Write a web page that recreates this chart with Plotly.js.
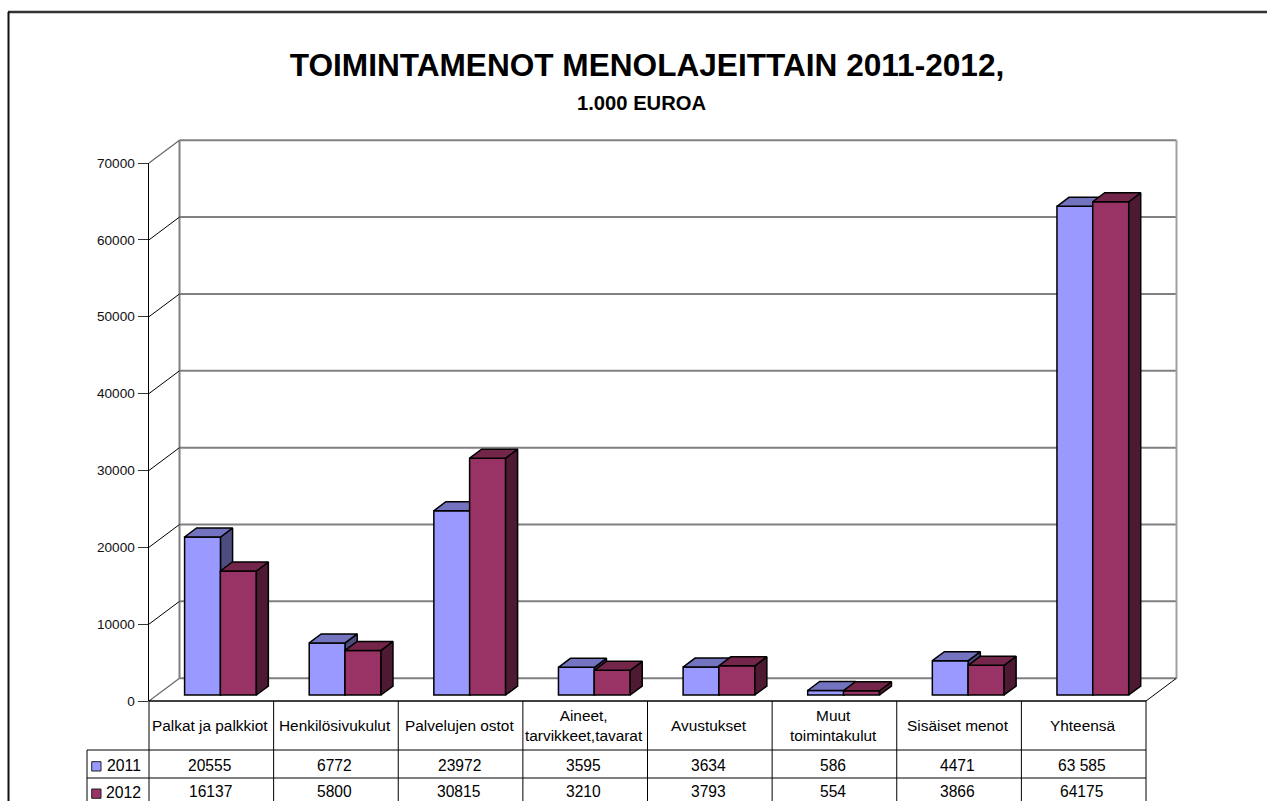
<!DOCTYPE html>
<html><head><meta charset="utf-8">
<script src="https://cdn.plot.ly/plotly-3.0.1.min.js"></script>
<style>html,body{margin:0;padding:0;background:#fff;overflow:hidden}#chart{width:1267px;height:801px}</style>
</head><body><div id="chart"></div>
<script>
// ---- data
const categories = ["Palkat ja palkkiot","Henkilösivukulut","Palvelujen ostot","Aineet,<br>tarvikkeet,tavarat","Avustukset","Muut<br>toimintakulut","Sisäiset menot","Yhteensä"];
const seriesNames = ["2011","2012"];
const values2011 = [20555,6772,23972,3595,3634,586,4471,63585];
const values2012 = [16137,5800,30815,3210,3793,554,3866,64175];
const labels2011 = ["20555","6772","23972","3595","3634","586","4471","63 585"];
const labels2012 = ["16137","5800","30815","3210","3793","554","3866","64175"];
const tickValues = [0,10000,20000,30000,40000,50000,60000,70000];

// ---- geometry / style
const FONT = "Liberation Sans, Arial, sans-serif";
const L=149,R=1146,T=163,B=701,W=1267,H=801;
const px = p => (p-L)/(R-L), py = p => (B-p)/(B-T);
const X = c => c/8, Y = v => v/70000;
const unitsPerPx = 70000/(B-T), catPerPx = 8/(R-L);
const wallDx = 30.5*catPerPx, wallDy = 22.8*unitsPerPx;
const barDx = 12*catPerPx, barDy = 9*unitsPerPx, floorLift = 6*unitsPerPx;
const barW = 36*catPerPx;
const centres = [0.43,0.717];
const front = ["#9999FF","#993366"], top_ = ["#7373BF","#732649"], side = ["#4D4D80","#4D1933"];

// wall and floor
const wline=(c0,v0,c1,v1,color,width)=>({type:"line",xref:"paper",yref:"paper",layer:"below",x0:X(c0),y0:Y(v0),x1:X(c1),y1:Y(v1),line:{color,width}});
const shapes=[];
tickValues.forEach(v=>{
  shapes.push(wline(wallDx,v+wallDy,8+wallDx,v+wallDy,"#808080",2));
});
shapes.push(wline(wallDx,wallDy,wallDx,70000+wallDy,"#808080",2));
shapes.push(wline(8+wallDx,wallDy,8+wallDx,70000+wallDy,"#A0A0A0",2));
shapes.push(wline(0,70000,wallDx,70000+wallDy,"#666666",1.2));
shapes.push(wline(8,0,8+wallDx,wallDy,"#000000",1));

const diagX=[],diagY=[];
tickValues.filter(v=>v>0&&v<70000).forEach(v=>{diagX.push(0,wallDx,null);diagY.push(v,v+wallDy,null);});
const traces=[
  {type:"scatter",mode:"lines",x:[0,wallDx],y:[0,wallDy],xaxis:"x",yaxis:"y",hoverinfo:"skip",showlegend:false,line:{color:"#666666",width:1.2}},
  {type:"scatter",mode:"lines",x:diagX,y:diagY,xaxis:"x",yaxis:"y",hoverinfo:"skip",showlegend:false,connectgaps:false,line:{color:"#000000",width:1}}
];

// 3-D bars: one overlaid subplot per series so later series cover earlier ones
[values2011,values2012].forEach((vals,s)=>{
  const ax=["x"+(s+2),"y"+(s+2)];
  const xs=vals.map((v,i)=>i+centres[s]);
  traces.push({type:"bar",name:seriesNames[s],x:xs,y:vals,base:vals.map(()=>floorLift),width:barW,xaxis:ax[0],yaxis:ax[1],
    marker:{color:front[s],line:{color:"#000",width:1.5}},hoverinfo:"skip",showlegend:false});
  const sx=[],sy=[],tx=[],ty=[];
  vals.forEach((v,i)=>{
    const l=xs[i]-barW/2,r=xs[i]+barW/2,b=floorLift,t=floorLift+v;
    sx.push(r,r+barDx,r+barDx,r,r,null); sy.push(b,b+barDy,t+barDy,t,b,null);
    tx.push(l,l+barDx,r+barDx,r,l,null); ty.push(t,t+barDy,t+barDy,t,t,null);
  });
  traces.push({type:"scatter",mode:"lines",x:sx,y:sy,fill:"toself",fillcolor:side[s],line:{color:"#000",width:1.5},xaxis:ax[0],yaxis:ax[1],hoverinfo:"skip",showlegend:false});
  traces.push({type:"scatter",mode:"lines",x:tx,y:ty,fill:"toself",fillcolor:top_[s],line:{color:"#000",width:1.5},xaxis:ax[0],yaxis:ax[1],hoverinfo:"skip",showlegend:false});
});

// data table
const pline=(x0,y0,x1,y1,color,width)=>({type:"line",xref:"paper",yref:"paper",layer:"above",x0:px(x0),y0:py(y0),x1:px(x1),y1:py(y1),line:{color,width}});
shapes.push(
  pline(8,12,W+5,12,"#333333",2.5),
  pline(8.5,12,8.5,H+5,"#111111",2),
  pline(L,B,R,B,"#000000",1.6),
  pline(87,750,R,750,"#000000",1),
  pline(87,778,R,778,"#000000",1),
  pline(87,750,87,H+5,"#000000",1)
);
for(let i=0;i<=8;i++){const x=L+(R-L)*i/8;shapes.push(pline(x,B,x,H+5,"#000000",1));}
[[761.7,front[0]],[789,front[1]]].forEach(([y,c])=>shapes.push({type:"rect",xref:"paper",yref:"paper",layer:"above",x0:px(91.7),x1:px(101),y0:py(y),y1:py(y+9.3),fillcolor:c,line:{color:"#222",width:1}}));

const txt=(text,xref,x,y,size,extra)=>Object.assign({text,xref,x,yref:"paper",y:py(y),showarrow:false,xanchor:"center",yanchor:"middle",align:"center",font:{family:FONT,size,color:"#000"}},extra||{});
const annotations=[
  txt("1.000 EUROA","paper",px(641.5),103,20.2,{font:{family:FONT,size:20.2,color:"#000",weight:700}}),
  txt(seriesNames[0],"paper",px(123.5),766,15.8),
  txt(seriesNames[1],"paper",px(123.5),793,15.8)
];
categories.forEach((c,i)=>{
  annotations.push(txt(c,"x",i+0.49,725,15.4));
  annotations.push(txt(labels2011[i],"x",i+0.49,765,15.6));
  annotations.push(txt(labels2012[i],"x",i+0.49,791,15.6));
});

const hidden=(over,range)=>({overlaying:over,range,visible:false,fixedrange:true});
const layout={
  width:W,height:H,paper_bgcolor:"#fff",plot_bgcolor:"rgba(0,0,0,0)",showlegend:false,
  margin:{l:L,r:W-R,t:T,b:H-B,autoexpand:false},
  font:{family:FONT,color:"#000"},
  title:{text:"TOIMINTAMENOT MENOLAJEITTAIN 2011-2012,",font:{family:FONT,size:31.6,color:"#000",weight:700},x:647/W,xanchor:"center",xref:"container",yref:"container",y:1-65/H,yanchor:"middle"},
  barmode:"overlay",
  xaxis:{range:[0,8],visible:false,fixedrange:true},
  yaxis:{range:[0,70000],tickvals:tickValues,ticktext:tickValues.map(String),ticks:"outside",ticklen:10,tickwidth:1,tickcolor:"#333",showline:true,linecolor:"#000",linewidth:1.5,showgrid:false,zeroline:false,tickfont:{family:FONT,size:13.6,color:"#111"},fixedrange:true},
  xaxis2:hidden("x",[0,8]),yaxis2:hidden("y",[0,70000]),
  xaxis3:hidden("x",[0,8]),yaxis3:hidden("y",[0,70000]),
  shapes,annotations
};
Plotly.newPlot("chart",traces,layout,{displayModeBar:false,staticPlot:true});
</script></body></html>
